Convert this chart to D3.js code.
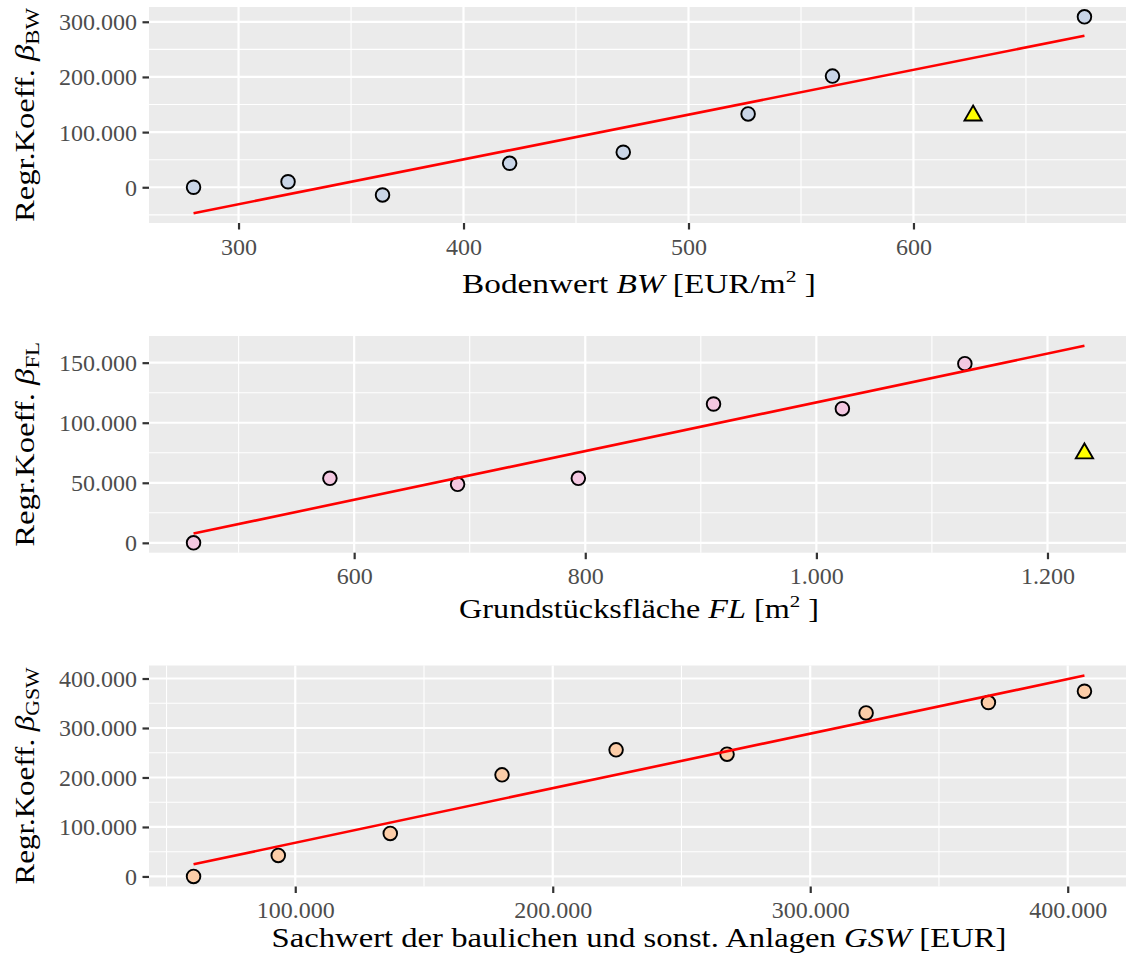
<!DOCTYPE html>
<html><head><meta charset="utf-8">
<script src="https://cdn.jsdelivr.net/npm/d3@7"></script>
<style>
body{margin:0;background:#fff}
svg{display:block}
text{font-family:"Liberation Serif","Times New Roman",serif}
</style>
</head><body>
<svg id="chart" width="1126" height="959"></svg>
<script>
// ---------------- data ----------------
// Panel 1: Bodenwert BW
const bwX = [280, 322, 364, 420.5, 471, 526.5, 564, 676];
const bwY = [0, 10000, -14000, 43500, 63500, 133000, 201500, 309000];
const bwOutX = [626.5];
const bwOutY = [130000];
const bwFitX = [280, 676];
const bwFitY = [-47000, 274700];
const bwXTicks = [300, 400, 500, 600];
const bwXMinor = [350, 450, 550, 650];
const bwYTicks = [0, 100000, 200000, 300000];
const bwYMinor = [-50000, 50000, 150000, 250000];

// Panel 2: Grundstücksfläche FL
const flX = [461, 579, 689.5, 794, 911, 1022.5, 1128.5];
const flY = [0, 53700, 48700, 53700, 115600, 111700, 149200];
const flOutX = [1232];
const flOutY = [74500];
const flFitX = [461, 1232];
const flFitY = [7700, 164000];
const flXTicks = [600, 800, 1000, 1200];
const flXMinor = [500, 700, 900, 1100];
const flYTicks = [0, 50000, 100000, 150000];
const flYMinor = [25000, 75000, 125000];

// Panel 3: Sachwert GSW
const gswX = [60500, 93400, 136900, 180300, 224600, 267700, 321700, 369200, 406500];
const gswY = [0, 42400, 86900, 205300, 255800, 247100, 330500, 351500, 374300];
const gswOutX = [];
const gswOutY = [];
const gswFitX = [60500, 406500];
const gswFitY = [24500, 406000];
const gswXTicks = [100000, 200000, 300000, 400000];
const gswXMinor = [50000, 150000, 250000, 350000];
const gswYTicks = [0, 100000, 200000, 300000, 400000];
const gswYMinor = [50000, 150000, 250000, 350000];

// ---------------- layout / style ----------------
const svg = d3.select("#chart");
svg.append("rect").attr("width", 1126).attr("height", 959).attr("fill", "#fff");
const fmt = d3.formatLocale({decimal: ",", thousands: ".", grouping: [3], currency: ["", "€"]}).format(",");

const LEFT = 149, RIGHT = 1129;
const panels = [
  {px: bwX, py: bwY, ox: bwOutX, oy: bwOutY, fx: bwFitX, fy: bwFitY,
   xt: bwXTicks, xm: bwXMinor, yt: bwYTicks, ym: bwYMinor,
   fill: "#C9D5E7", top: 7, bottom: 223, titleY: 293, xTitleW: 354, yTitleW: 214,
   xTitle: [["Bodenwert ", ""], ["BW", "i"], [" [EUR/m", ""], ["2", "sup"], [" ]", ""]],
   ySub: "BW"},
  {px: flX, py: flY, ox: flOutX, oy: flOutY, fx: flFitX, fy: flFitY,
   xt: flXTicks, xm: flXMinor, yt: flYTicks, ym: flYMinor,
   fill: "#F3C8E1", top: 336, bottom: 552.7, titleY: 618, xTitleW: 360, yTitleW: 205,
   xTitle: [["Grundstücksfläche ", ""], ["FL", "i"], [" [m", ""], ["2", "sup"], [" ]", ""]],
   ySub: "FL"},
  {px: gswX, py: gswY, ox: gswOutX, oy: gswOutY, fx: gswFitX, fy: gswFitY,
   xt: gswXTicks, xm: gswXMinor, yt: gswYTicks, ym: gswYMinor,
   fill: "#FCCDA8", top: 665.5, bottom: 886.5, titleY: 947, xTitleW: 735, yTitleW: 217,
   xTitle: [["Sachwert der baulichen und sonst. Anlagen ", ""], ["GSW", "i"], [" [EUR]", ""]],
   ySub: "GSW"}
];

function expand(vals) {
  const [a, b] = d3.extent(vals);
  const d = (b - a) * 0.05;
  return [a - d, b + d];
}

const TITLE_FS = 27, TICK_FS = 24;

panels.forEach(p => {
  const x = d3.scaleLinear().domain(expand(p.px.concat(p.ox, p.fx))).range([LEFT, RIGHT]);
  const y = d3.scaleLinear().domain(expand(p.py.concat(p.oy, p.fy))).range([p.bottom, p.top]);
  const g = svg.append("g");

  // panel background
  g.append("rect").attr("x", LEFT).attr("y", p.top)
    .attr("width", RIGHT - LEFT).attr("height", p.bottom - p.top).attr("fill", "#EBEBEB");

  // minor grid
  g.selectAll(".xm").data(p.xm).join("line")
    .attr("x1", d => x(d)).attr("x2", d => x(d)).attr("y1", p.top).attr("y2", p.bottom)
    .attr("stroke", "#fff").attr("stroke-width", 1.1);
  g.selectAll(".ym").data(p.ym).join("line")
    .attr("y1", d => y(d)).attr("y2", d => y(d)).attr("x1", LEFT).attr("x2", RIGHT)
    .attr("stroke", "#fff").attr("stroke-width", 1.1);
  // major grid
  g.selectAll(".xg").data(p.xt).join("line")
    .attr("x1", d => x(d)).attr("x2", d => x(d)).attr("y1", p.top).attr("y2", p.bottom)
    .attr("stroke", "#fff").attr("stroke-width", 2.2);
  g.selectAll(".yg").data(p.yt).join("line")
    .attr("y1", d => y(d)).attr("y2", d => y(d)).attr("x1", LEFT).attr("x2", RIGHT)
    .attr("stroke", "#fff").attr("stroke-width", 2.2);

  // axes
  const xAxis = d3.axisBottom(x).tickValues(p.xt).tickFormat(fmt).tickSize(6.5).tickPadding(8);
  const yAxis = d3.axisLeft(y).tickValues(p.yt).tickFormat(fmt).tickSize(6.5).tickPadding(5.5);
  const xa = g.append("g").attr("transform", `translate(0,${p.bottom})`).call(xAxis);
  const ya = g.append("g").attr("transform", `translate(${LEFT},0)`).call(yAxis);
  [xa, ya].forEach(a => {
    a.select(".domain").remove();
    a.selectAll(".tick line").attr("stroke", "#333333").attr("stroke-width", 2.2);
    a.selectAll(".tick text").attr("fill", "#4D4D4D").attr("font-size", TICK_FS)
      .style("font-family", '"Liberation Serif", serif');
  });
  xa.selectAll(".tick text").attr("dy", null).attr("y", 31.5).attr("dominant-baseline", "alphabetic");
  ya.selectAll(".tick text").attr("dy", "0.33em");

  // points
  g.selectAll(".pt").data(d3.range(p.px.length)).join("circle")
    .attr("cx", i => x(p.px[i])).attr("cy", i => y(p.py[i])).attr("r", 6.8)
    .attr("fill", p.fill).attr("stroke", "#000").attr("stroke-width", 1.9);

  // outlier triangles (R pch 24 geometry)
  const R = 6.4;
  const tri = `M0,${-1.555 * R}L${1.347 * R},${0.778 * R}L${-1.347 * R},${0.778 * R}Z`;
  g.selectAll(".tri").data(d3.range(p.ox.length)).join("path")
    .attr("d", tri)
    .attr("transform", i => `translate(${x(p.ox[i])},${y(p.oy[i])})`)
    .attr("fill", "#FFFF00").attr("stroke", "#000").attr("stroke-width", 1.9)
    .attr("stroke-linejoin", "miter");

  // fit line
  const line = d3.line().x(d => x(d[0])).y(d => y(d[1]));
  g.append("path").datum(p.fx.map((v, i) => [v, p.fy[i]]))
    .attr("d", line).attr("fill", "none").attr("stroke", "#FF0000").attr("stroke-width", 2.6);

  // x title
  const cx = (LEFT + RIGHT) / 2;
  const xt = g.append("text").attr("text-anchor", "middle").attr("font-size", TITLE_FS).attr("fill", "#000");
  let shifted = 0;
  p.xTitle.forEach(([t, s]) => {
    const ts = xt.append("tspan").text(t);
    if (s === "i") ts.attr("font-style", "italic");
    if (s === "sup") { ts.attr("font-size", TITLE_FS * 0.65).attr("dy", -11); shifted = 11; }
    else if (shifted) { ts.attr("dy", shifted); shifted = 0; }
  });
  const xw = xt.node().getComputedTextLength();
  xt.attr("transform", `translate(${cx},${p.titleY}) scale(${p.xTitleW / xw},1)`);

  // y title
  const cy = (p.top + p.bottom) / 2;
  const yt = g.append("text").attr("text-anchor", "middle").attr("font-size", TITLE_FS).attr("fill", "#000");
  yt.append("tspan").text("Regr.Koeff. ");
  yt.append("tspan").text("β").attr("font-style", "italic");
  yt.append("tspan").text(p.ySub).attr("font-size", TITLE_FS * 0.7).attr("dy", 5.5);
  const yw = yt.node().getComputedTextLength();
  yt.attr("transform", `translate(33.5,${cy}) rotate(-90) scale(${p.yTitleW / yw},1)`);
});
</script>
</body></html>
